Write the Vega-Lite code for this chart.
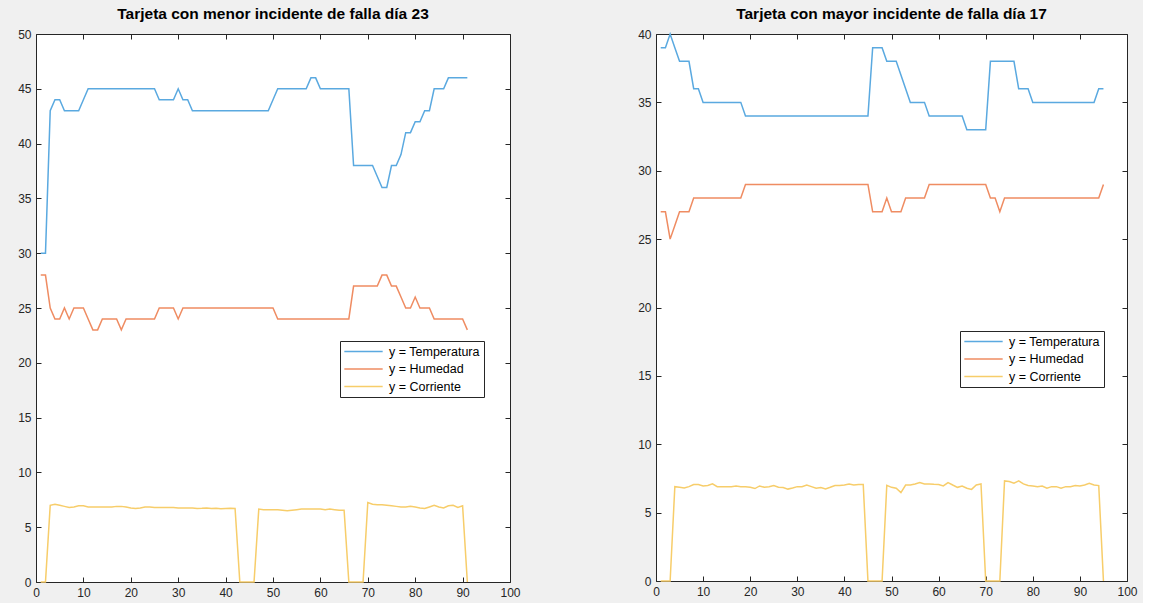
{
  "$schema": "https://vega.github.io/schema/vega-lite/v6.json",
  "background": "#f0f0f0",
  "padding": {"left": 17, "top": 6, "right": 5, "bottom": 4},
  "spacing": 116,
  "config": {
    "font": "Liberation Sans",
    "view": {"fill": "white", "stroke": "#262626", "strokeWidth": 1},
    "axis": {"grid": false, "domain": false, "tickSize": -5, "tickColor": "#262626", "labelPadding": 10, "labelFontSize": 12, "labelColor": "#262626", "labelFlush": false, "labelOverlap": false, "title": null},
    "title": {"fontSize": 15.5, "fontWeight": "bold", "color": "#000000", "offset": 6, "anchor": "middle"},
    "legend": {"orient": "none", "fillColor": "white", "strokeColor": "#262626", "padding": 4, "symbolType": "M-3.5,0H3.5", "symbolSize": 120, "symbolStrokeWidth": 1.5, "symbolOffset": 13, "labelOffset": 19, "labelFontSize": 12.5, "labelColor": "#000000", "rowPadding": 4.5, "labelLimit": 300, "title": null}
  },
  "datasets": {
    "izq": [
      {"x":1,"Temperatura":30,"Humedad":28,"Corriente":0},
      {"x":2,"Temperatura":30,"Humedad":28,"Corriente":0},
      {"x":3,"Temperatura":43,"Humedad":25,"Corriente":7.0},
      {"x":4,"Temperatura":44,"Humedad":24,"Corriente":7.1},
      {"x":5,"Temperatura":44,"Humedad":24,"Corriente":7.0},
      {"x":6,"Temperatura":43,"Humedad":25,"Corriente":6.9},
      {"x":7,"Temperatura":43,"Humedad":24,"Corriente":6.8},
      {"x":8,"Temperatura":43,"Humedad":25,"Corriente":6.85},
      {"x":9,"Temperatura":43,"Humedad":25,"Corriente":6.95},
      {"x":10,"Temperatura":44,"Humedad":25,"Corriente":6.95},
      {"x":11,"Temperatura":45,"Humedad":24,"Corriente":6.85},
      {"x":12,"Temperatura":45,"Humedad":23,"Corriente":6.85},
      {"x":13,"Temperatura":45,"Humedad":23,"Corriente":6.85},
      {"x":14,"Temperatura":45,"Humedad":24,"Corriente":6.85},
      {"x":15,"Temperatura":45,"Humedad":24,"Corriente":6.85},
      {"x":16,"Temperatura":45,"Humedad":24,"Corriente":6.85},
      {"x":17,"Temperatura":45,"Humedad":24,"Corriente":6.9},
      {"x":18,"Temperatura":45,"Humedad":23,"Corriente":6.9},
      {"x":19,"Temperatura":45,"Humedad":24,"Corriente":6.85},
      {"x":20,"Temperatura":45,"Humedad":24,"Corriente":6.75},
      {"x":21,"Temperatura":45,"Humedad":24,"Corriente":6.7},
      {"x":22,"Temperatura":45,"Humedad":24,"Corriente":6.75},
      {"x":23,"Temperatura":45,"Humedad":24,"Corriente":6.85},
      {"x":24,"Temperatura":45,"Humedad":24,"Corriente":6.85},
      {"x":25,"Temperatura":45,"Humedad":24,"Corriente":6.8},
      {"x":26,"Temperatura":44,"Humedad":25,"Corriente":6.8},
      {"x":27,"Temperatura":44,"Humedad":25,"Corriente":6.8},
      {"x":28,"Temperatura":44,"Humedad":25,"Corriente":6.8},
      {"x":29,"Temperatura":44,"Humedad":25,"Corriente":6.8},
      {"x":30,"Temperatura":45,"Humedad":24,"Corriente":6.75},
      {"x":31,"Temperatura":44,"Humedad":25,"Corriente":6.75},
      {"x":32,"Temperatura":44,"Humedad":25,"Corriente":6.75},
      {"x":33,"Temperatura":43,"Humedad":25,"Corriente":6.75},
      {"x":34,"Temperatura":43,"Humedad":25,"Corriente":6.7},
      {"x":35,"Temperatura":43,"Humedad":25,"Corriente":6.72},
      {"x":36,"Temperatura":43,"Humedad":25,"Corriente":6.75},
      {"x":37,"Temperatura":43,"Humedad":25,"Corriente":6.7},
      {"x":38,"Temperatura":43,"Humedad":25,"Corriente":6.72},
      {"x":39,"Temperatura":43,"Humedad":25,"Corriente":6.68},
      {"x":40,"Temperatura":43,"Humedad":25,"Corriente":6.7},
      {"x":41,"Temperatura":43,"Humedad":25,"Corriente":6.72},
      {"x":42,"Temperatura":43,"Humedad":25,"Corriente":6.7},
      {"x":43,"Temperatura":43,"Humedad":25,"Corriente":0},
      {"x":44,"Temperatura":43,"Humedad":25,"Corriente":0},
      {"x":45,"Temperatura":43,"Humedad":25,"Corriente":0},
      {"x":46,"Temperatura":43,"Humedad":25,"Corriente":0},
      {"x":47,"Temperatura":43,"Humedad":25,"Corriente":6.65},
      {"x":48,"Temperatura":43,"Humedad":25,"Corriente":6.6},
      {"x":49,"Temperatura":43,"Humedad":25,"Corriente":6.6},
      {"x":50,"Temperatura":44,"Humedad":25,"Corriente":6.6},
      {"x":51,"Temperatura":45,"Humedad":24,"Corriente":6.6},
      {"x":52,"Temperatura":45,"Humedad":24,"Corriente":6.55},
      {"x":53,"Temperatura":45,"Humedad":24,"Corriente":6.5},
      {"x":54,"Temperatura":45,"Humedad":24,"Corriente":6.55},
      {"x":55,"Temperatura":45,"Humedad":24,"Corriente":6.6},
      {"x":56,"Temperatura":45,"Humedad":24,"Corriente":6.65},
      {"x":57,"Temperatura":45,"Humedad":24,"Corriente":6.65},
      {"x":58,"Temperatura":46,"Humedad":24,"Corriente":6.65},
      {"x":59,"Temperatura":46,"Humedad":24,"Corriente":6.65},
      {"x":60,"Temperatura":45,"Humedad":24,"Corriente":6.65},
      {"x":61,"Temperatura":45,"Humedad":24,"Corriente":6.6},
      {"x":62,"Temperatura":45,"Humedad":24,"Corriente":6.65},
      {"x":63,"Temperatura":45,"Humedad":24,"Corriente":6.6},
      {"x":64,"Temperatura":45,"Humedad":24,"Corriente":6.55},
      {"x":65,"Temperatura":45,"Humedad":24,"Corriente":6.55},
      {"x":66,"Temperatura":45,"Humedad":24,"Corriente":0},
      {"x":67,"Temperatura":38,"Humedad":27,"Corriente":0},
      {"x":68,"Temperatura":38,"Humedad":27,"Corriente":0},
      {"x":69,"Temperatura":38,"Humedad":27,"Corriente":0},
      {"x":70,"Temperatura":38,"Humedad":27,"Corriente":7.25},
      {"x":71,"Temperatura":38,"Humedad":27,"Corriente":7.1},
      {"x":72,"Temperatura":37,"Humedad":27,"Corriente":7.05},
      {"x":73,"Temperatura":36,"Humedad":28,"Corriente":7.05},
      {"x":74,"Temperatura":36,"Humedad":28,"Corriente":7.0},
      {"x":75,"Temperatura":38,"Humedad":27,"Corriente":6.95},
      {"x":76,"Temperatura":38,"Humedad":27,"Corriente":6.9},
      {"x":77,"Temperatura":39,"Humedad":26,"Corriente":6.85},
      {"x":78,"Temperatura":41,"Humedad":25,"Corriente":6.85},
      {"x":79,"Temperatura":41,"Humedad":25,"Corriente":6.9},
      {"x":80,"Temperatura":42,"Humedad":26,"Corriente":6.85},
      {"x":81,"Temperatura":42,"Humedad":25,"Corriente":6.75},
      {"x":82,"Temperatura":43,"Humedad":25,"Corriente":6.7},
      {"x":83,"Temperatura":43,"Humedad":25,"Corriente":6.85},
      {"x":84,"Temperatura":45,"Humedad":24,"Corriente":7.0},
      {"x":85,"Temperatura":45,"Humedad":24,"Corriente":6.85},
      {"x":86,"Temperatura":45,"Humedad":24,"Corriente":6.75},
      {"x":87,"Temperatura":46,"Humedad":24,"Corriente":6.95},
      {"x":88,"Temperatura":46,"Humedad":24,"Corriente":7.0},
      {"x":89,"Temperatura":46,"Humedad":24,"Corriente":6.8},
      {"x":90,"Temperatura":46,"Humedad":24,"Corriente":6.95},
      {"x":91,"Temperatura":46,"Humedad":23,"Corriente":0}
    ],
    "der": [
      {"x":1,"Temperatura":39,"Humedad":27,"Corriente":0},
      {"x":2,"Temperatura":39,"Humedad":27,"Corriente":0},
      {"x":3,"Temperatura":40,"Humedad":25,"Corriente":0},
      {"x":4,"Temperatura":39,"Humedad":26,"Corriente":6.9},
      {"x":5,"Temperatura":38,"Humedad":27,"Corriente":6.85},
      {"x":6,"Temperatura":38,"Humedad":27,"Corriente":6.8},
      {"x":7,"Temperatura":38,"Humedad":27,"Corriente":6.9},
      {"x":8,"Temperatura":36,"Humedad":28,"Corriente":7.05},
      {"x":9,"Temperatura":36,"Humedad":28,"Corriente":7.05},
      {"x":10,"Temperatura":35,"Humedad":28,"Corriente":6.95},
      {"x":11,"Temperatura":35,"Humedad":28,"Corriente":6.98},
      {"x":12,"Temperatura":35,"Humedad":28,"Corriente":7.1},
      {"x":13,"Temperatura":35,"Humedad":28,"Corriente":6.9},
      {"x":14,"Temperatura":35,"Humedad":28,"Corriente":6.9},
      {"x":15,"Temperatura":35,"Humedad":28,"Corriente":6.9},
      {"x":16,"Temperatura":35,"Humedad":28,"Corriente":6.9},
      {"x":17,"Temperatura":35,"Humedad":28,"Corriente":6.95},
      {"x":18,"Temperatura":35,"Humedad":28,"Corriente":6.9},
      {"x":19,"Temperatura":34,"Humedad":29,"Corriente":6.9},
      {"x":20,"Temperatura":34,"Humedad":29,"Corriente":6.85},
      {"x":21,"Temperatura":34,"Humedad":29,"Corriente":6.76},
      {"x":22,"Temperatura":34,"Humedad":29,"Corriente":6.95},
      {"x":23,"Temperatura":34,"Humedad":29,"Corriente":6.85},
      {"x":24,"Temperatura":34,"Humedad":29,"Corriente":6.9},
      {"x":25,"Temperatura":34,"Humedad":29,"Corriente":6.98},
      {"x":26,"Temperatura":34,"Humedad":29,"Corriente":6.85},
      {"x":27,"Temperatura":34,"Humedad":29,"Corriente":6.83},
      {"x":28,"Temperatura":34,"Humedad":29,"Corriente":6.72},
      {"x":29,"Temperatura":34,"Humedad":29,"Corriente":6.8},
      {"x":30,"Temperatura":34,"Humedad":29,"Corriente":6.9},
      {"x":31,"Temperatura":34,"Humedad":29,"Corriente":6.9},
      {"x":32,"Temperatura":34,"Humedad":29,"Corriente":7.02},
      {"x":33,"Temperatura":34,"Humedad":29,"Corriente":6.9},
      {"x":34,"Temperatura":34,"Humedad":29,"Corriente":6.78},
      {"x":35,"Temperatura":34,"Humedad":29,"Corriente":6.83},
      {"x":36,"Temperatura":34,"Humedad":29,"Corriente":6.73},
      {"x":37,"Temperatura":34,"Humedad":29,"Corriente":6.85},
      {"x":38,"Temperatura":34,"Humedad":29,"Corriente":6.98},
      {"x":39,"Temperatura":34,"Humedad":29,"Corriente":6.98},
      {"x":40,"Temperatura":34,"Humedad":29,"Corriente":7.02},
      {"x":41,"Temperatura":34,"Humedad":29,"Corriente":7.1},
      {"x":42,"Temperatura":34,"Humedad":29,"Corriente":7.02},
      {"x":43,"Temperatura":34,"Humedad":29,"Corriente":7.05},
      {"x":44,"Temperatura":34,"Humedad":29,"Corriente":7.05},
      {"x":45,"Temperatura":34,"Humedad":29,"Corriente":0},
      {"x":46,"Temperatura":39,"Humedad":27,"Corriente":0},
      {"x":47,"Temperatura":39,"Humedad":27,"Corriente":0},
      {"x":48,"Temperatura":39,"Humedad":27,"Corriente":0},
      {"x":49,"Temperatura":38,"Humedad":28,"Corriente":7.0},
      {"x":50,"Temperatura":38,"Humedad":27,"Corriente":6.85},
      {"x":51,"Temperatura":38,"Humedad":27,"Corriente":6.78},
      {"x":52,"Temperatura":37,"Humedad":27,"Corriente":6.46},
      {"x":53,"Temperatura":36,"Humedad":28,"Corriente":7.02},
      {"x":54,"Temperatura":35,"Humedad":28,"Corriente":7.02},
      {"x":55,"Temperatura":35,"Humedad":28,"Corriente":7.1},
      {"x":56,"Temperatura":35,"Humedad":28,"Corriente":7.2},
      {"x":57,"Temperatura":35,"Humedad":28,"Corriente":7.1},
      {"x":58,"Temperatura":34,"Humedad":29,"Corriente":7.1},
      {"x":59,"Temperatura":34,"Humedad":29,"Corriente":7.07},
      {"x":60,"Temperatura":34,"Humedad":29,"Corriente":7.05},
      {"x":61,"Temperatura":34,"Humedad":29,"Corriente":6.95},
      {"x":62,"Temperatura":34,"Humedad":29,"Corriente":7.2},
      {"x":63,"Temperatura":34,"Humedad":29,"Corriente":7.02},
      {"x":64,"Temperatura":34,"Humedad":29,"Corriente":6.85},
      {"x":65,"Temperatura":34,"Humedad":29,"Corriente":6.95},
      {"x":66,"Temperatura":33,"Humedad":29,"Corriente":6.78},
      {"x":67,"Temperatura":33,"Humedad":29,"Corriente":6.7},
      {"x":68,"Temperatura":33,"Humedad":29,"Corriente":7.02},
      {"x":69,"Temperatura":33,"Humedad":29,"Corriente":7.1},
      {"x":70,"Temperatura":33,"Humedad":29,"Corriente":0},
      {"x":71,"Temperatura":38,"Humedad":28,"Corriente":0},
      {"x":72,"Temperatura":38,"Humedad":28,"Corriente":0},
      {"x":73,"Temperatura":38,"Humedad":27,"Corriente":0},
      {"x":74,"Temperatura":38,"Humedad":28,"Corriente":7.32},
      {"x":75,"Temperatura":38,"Humedad":28,"Corriente":7.27},
      {"x":76,"Temperatura":38,"Humedad":28,"Corriente":7.15},
      {"x":77,"Temperatura":36,"Humedad":28,"Corriente":7.32},
      {"x":78,"Temperatura":36,"Humedad":28,"Corriente":7.1},
      {"x":79,"Temperatura":36,"Humedad":28,"Corriente":6.98},
      {"x":80,"Temperatura":35,"Humedad":28,"Corriente":6.95},
      {"x":81,"Temperatura":35,"Humedad":28,"Corriente":6.9},
      {"x":82,"Temperatura":35,"Humedad":28,"Corriente":6.95},
      {"x":83,"Temperatura":35,"Humedad":28,"Corriente":6.78},
      {"x":84,"Temperatura":35,"Humedad":28,"Corriente":6.9},
      {"x":85,"Temperatura":35,"Humedad":28,"Corriente":6.9},
      {"x":86,"Temperatura":35,"Humedad":28,"Corriente":6.78},
      {"x":87,"Temperatura":35,"Humedad":28,"Corriente":6.9},
      {"x":88,"Temperatura":35,"Humedad":28,"Corriente":6.9},
      {"x":89,"Temperatura":35,"Humedad":28,"Corriente":6.98},
      {"x":90,"Temperatura":35,"Humedad":28,"Corriente":6.95},
      {"x":91,"Temperatura":35,"Humedad":28,"Corriente":7.02},
      {"x":92,"Temperatura":35,"Humedad":28,"Corriente":7.15},
      {"x":93,"Temperatura":35,"Humedad":28,"Corriente":7.02},
      {"x":94,"Temperatura":36,"Humedad":28,"Corriente":6.98},
      {"x":95,"Temperatura":36,"Humedad":29,"Corriente":0}
    ]
  },
  "resolve": {"scale": {"x": "independent", "y": "independent", "color": "independent"}, "legend": {"color": "independent"}},
  "hconcat": [
    {
      "title": "Tarjeta con menor incidente de falla día 23",
      "width": 474,
      "height": 548,
      "data": {"name": "izq"},
      "transform": [{"fold": ["Temperatura", "Humedad", "Corriente"], "as": ["serie", "valor"]}],
      "resolve": {"axis": {"x": "independent", "y": "independent"}},
      "layer": [
        {
          "mark": {"type": "line", "strokeWidth": 1.5},
          "encoding": {
            "x": {"field": "x", "type": "quantitative", "scale": {"domain": [0, 100], "nice": false}, "axis": {"orient": "bottom", "values": [0,10,20,30,40,50,60,70,80,90,100]}},
            "y": {"field": "valor", "type": "quantitative", "scale": {"domain": [0, 50], "nice": false}, "axis": {"orient": "left", "values": [0,5,10,15,20,25,30,35,40,45,50]}},
            "color": {"field": "serie", "type": "nominal", "scale": {"domain": ["Temperatura", "Humedad", "Corriente"], "range": ["#5aa9e0", "#ef8c62", "#f7cd6a"]}, "legend": {"legendX": 304, "legendY": 307, "labelExpr": "'y = ' + datum.label + '  '"}}
          }
        },
        {
          "mark": {"type": "point", "opacity": 0},
          "encoding": {
            "x": {"field": "x", "type": "quantitative", "scale": {"domain": [0, 100], "nice": false}, "axis": {"orient": "top", "labels": false, "values": [0,10,20,30,40,50,60,70,80,90,100]}},
            "y": {"field": "valor", "type": "quantitative", "scale": {"domain": [0, 50], "nice": false}, "axis": {"orient": "right", "labels": false, "values": [0,5,10,15,20,25,30,35,40,45,50]}}
          }
        }
      ]
    },
    {
      "title": "Tarjeta con mayor incidente de falla día 17",
      "width": 471,
      "height": 547,
      "data": {"name": "der"},
      "transform": [{"fold": ["Temperatura", "Humedad", "Corriente"], "as": ["serie", "valor"]}],
      "resolve": {"axis": {"x": "independent", "y": "independent"}},
      "layer": [
        {
          "mark": {"type": "line", "strokeWidth": 1.5},
          "encoding": {
            "x": {"field": "x", "type": "quantitative", "scale": {"domain": [0, 100], "nice": false}, "axis": {"orient": "bottom", "values": [0,10,20,30,40,50,60,70,80,90,100]}},
            "y": {"field": "valor", "type": "quantitative", "scale": {"domain": [0, 40], "nice": false}, "axis": {"orient": "left", "values": [0,5,10,15,20,25,30,35,40]}},
            "color": {"field": "serie", "type": "nominal", "scale": {"domain": ["Temperatura", "Humedad", "Corriente"], "range": ["#5aa9e0", "#ef8c62", "#f7cd6a"]}, "legend": {"legendX": 304, "legendY": 297, "labelExpr": "'y = ' + datum.label + '  '"}}
          }
        },
        {
          "mark": {"type": "point", "opacity": 0},
          "encoding": {
            "x": {"field": "x", "type": "quantitative", "scale": {"domain": [0, 100], "nice": false}, "axis": {"orient": "top", "labels": false, "values": [0,10,20,30,40,50,60,70,80,90,100]}},
            "y": {"field": "valor", "type": "quantitative", "scale": {"domain": [0, 40], "nice": false}, "axis": {"orient": "right", "labels": false, "values": [0,5,10,15,20,25,30,35,40]}}
          }
        }
      ]
    }
  ]
}
